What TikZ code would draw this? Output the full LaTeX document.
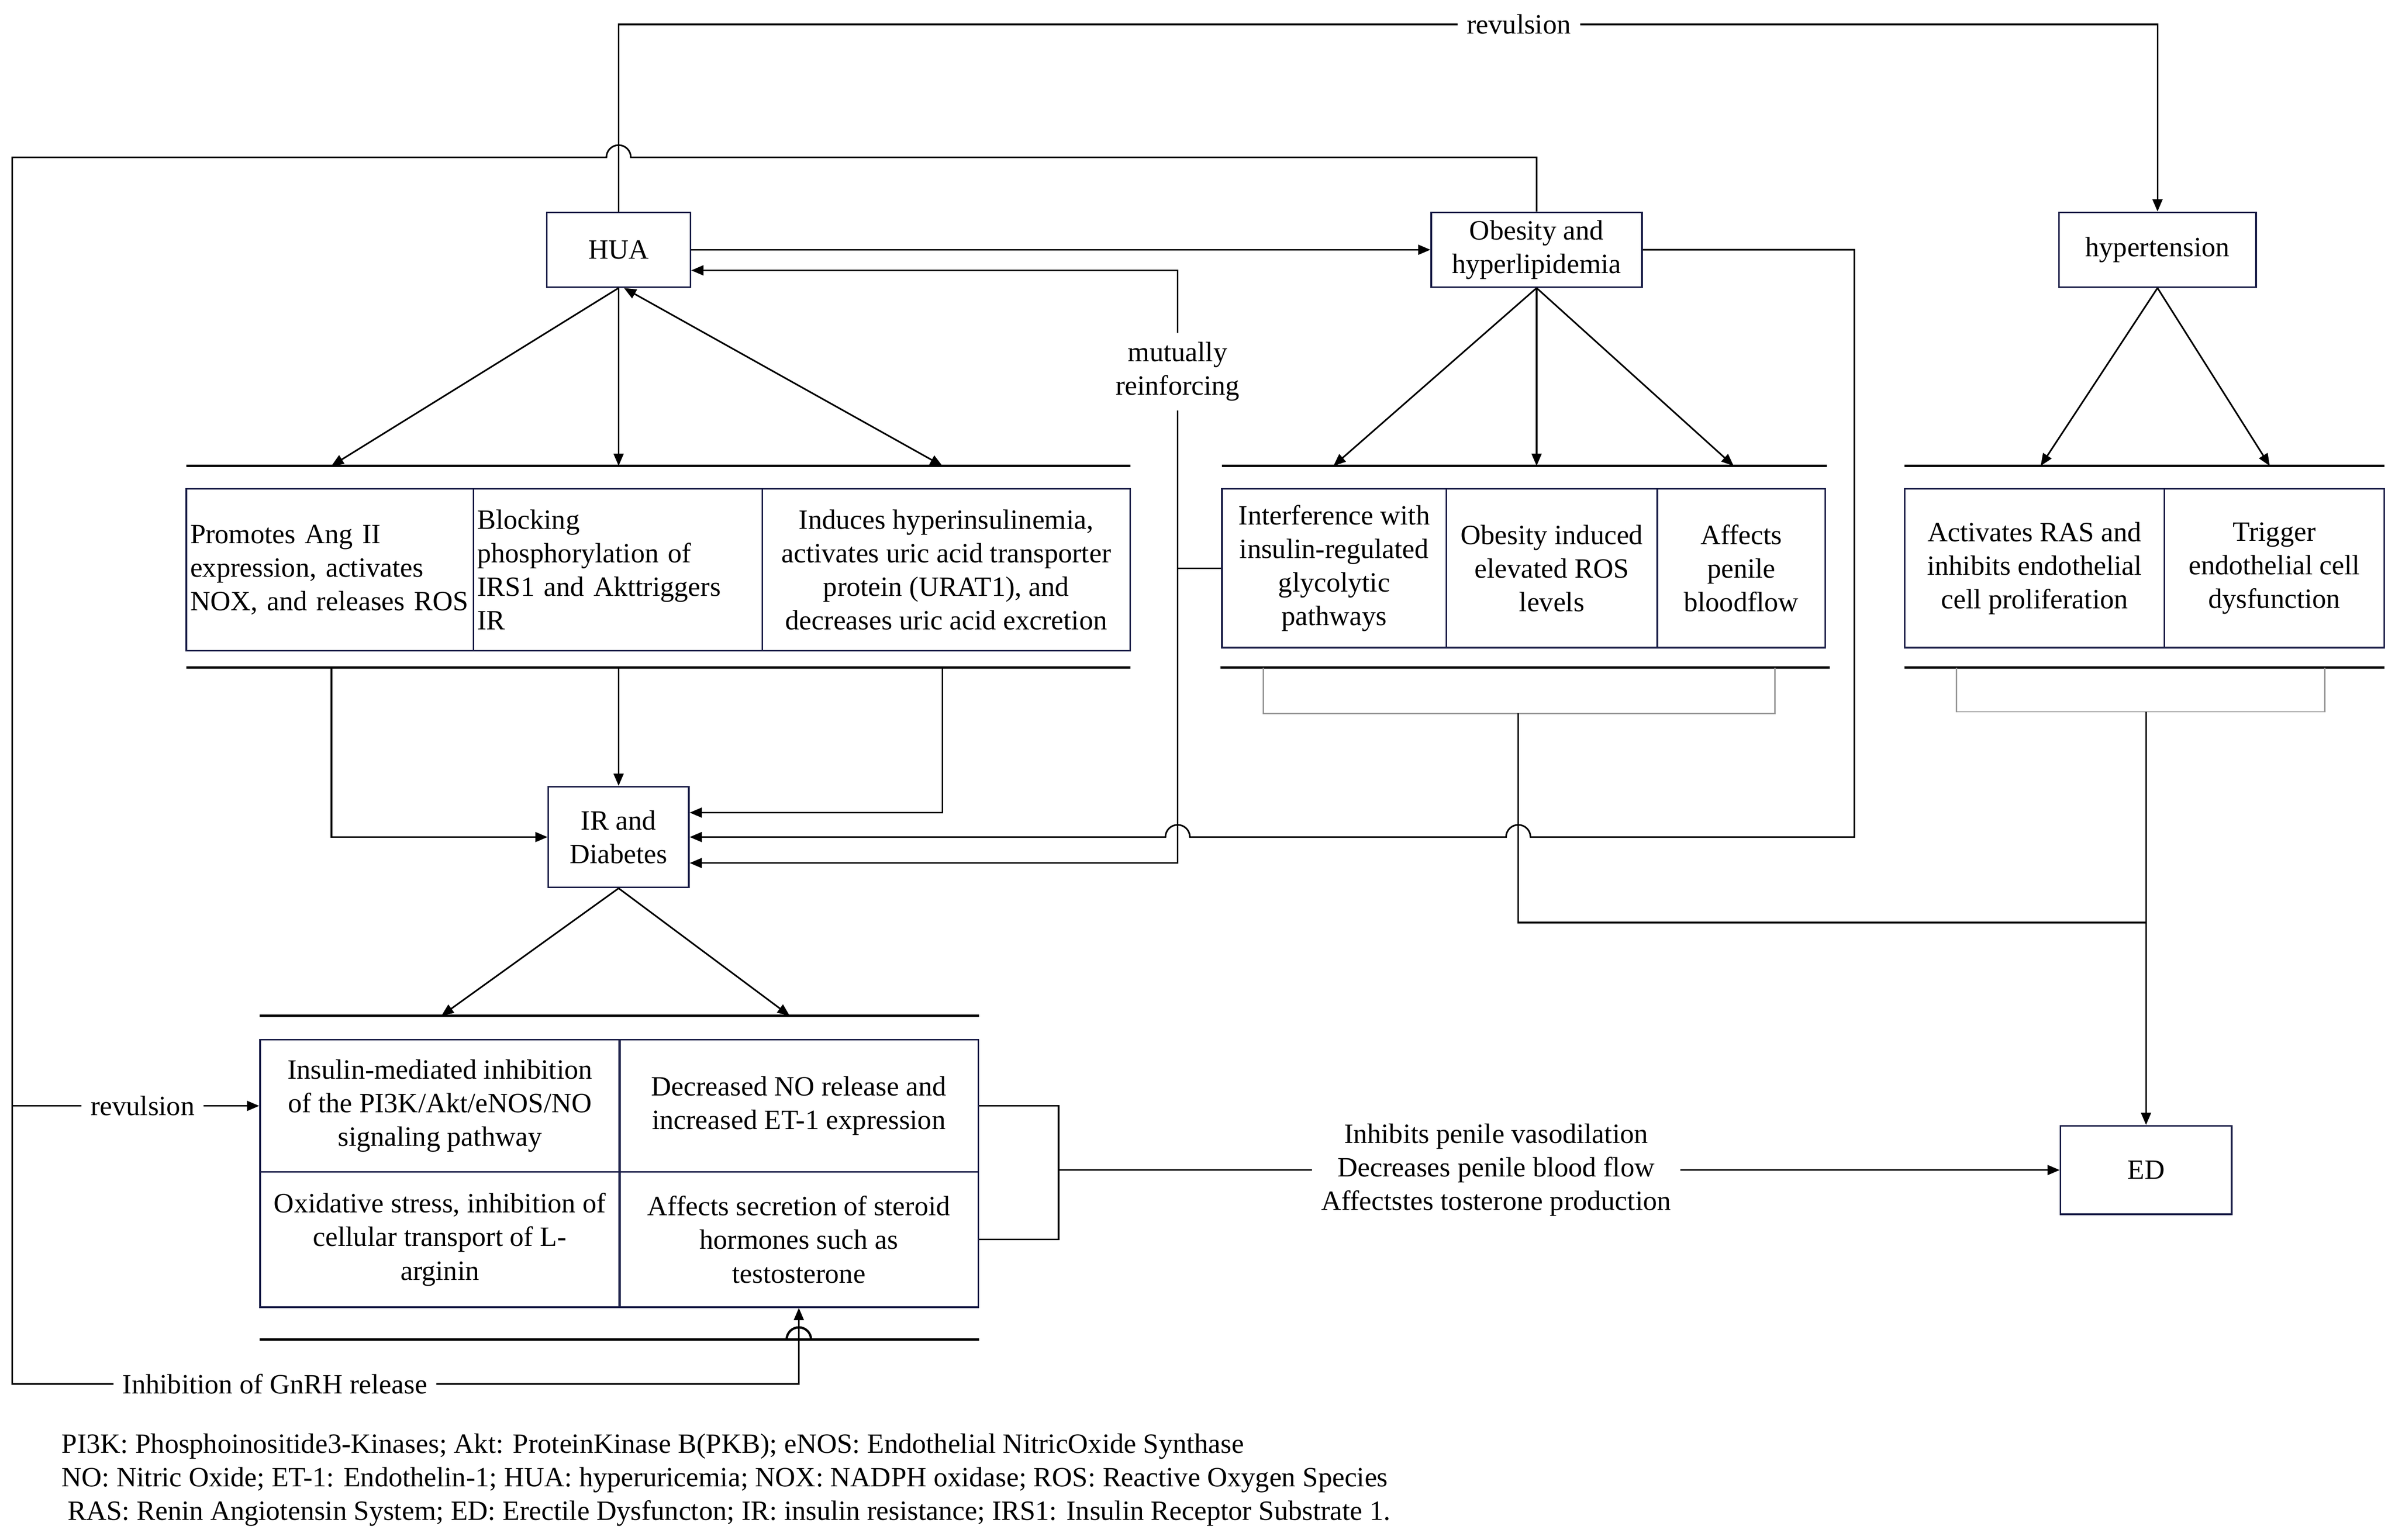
\documentclass[tikz,border=0pt]{standalone}
\usepackage{fontspec}
\setmainfont{Liberation Serif}
\usetikzlibrary{arrows.meta,positioning}
\definecolor{boxnavy}{RGB}{24,28,70}
\definecolor{brackgray}{RGB}{150,150,150}

\begin{document}
\begin{tikzpicture}[x=0.2mm, y=-0.2mm, >={Triangle[length=1.6mm,width=1.3mm]},
  every node/.style={font=\fontsize{10.4}{12.5}\selectfont},
  topbox/.style={draw=boxnavy, line width=0.6pt, minimum height=9.8mm, inner ysep=0.5mm, align=center},
  cell/.style={draw=boxnavy, line width=0.6pt, inner xsep=0.5mm, inner ysep=0pt, align=center},
  lbl/.style={fill=white, inner sep=1.2mm, align=center},
  conn/.style={line width=0.6pt},
  rule/.style={line width=0.85pt},
  brack/.style={draw=brackgray, line width=0.5pt}]
  \useasboundingbox (0,0) rectangle (1568,1008);

  % top row
  \node[topbox, minimum width=18.8mm] (hua) at (405,163.5) {HUA};
  \node[topbox, minimum width=27.6mm] (obes) at (1006,163.5) {Obesity and\\hyperlipidemia};
  \node[topbox, minimum width=25.8mm] (hyp) at (1412.5,163.5) {hypertension};
  \node[topbox, minimum width=18.4mm, minimum height=13.2mm] (ird) at (405,548) {IR and\\Diabetes};
  \node[topbox, minimum width=22.4mm, minimum height=11.6mm] (ed) at (1405,766) {ED};

  % HUA group
  \node[cell, minimum width=37.6mm, minimum height=21.2mm, text width=36.6mm, align=left] (hua1) at (216,373) {Promotes Ang II\\expression, activates\\NOX, and releases ROS};
  \node[cell, minimum width=37.8mm, minimum height=21.2mm, text width=36.8mm, align=left] (hua2) at (404.5,373) {Blocking\\phosphorylation of\\IRS1 and Akttriggers\\IR};
  \node[cell, minimum width=48.2mm, minimum height=21.2mm] (hua3) at (619.5,373) {Induces hyperinsulinemia,\\activates uric acid transporter\\protein (URAT1), and\\decreases uric acid excretion};

  % obesity group
  \node[cell, minimum width=29.4mm, minimum height=20.8mm] (ob1) at (873.5,372) {Interference with\\insulin-regulated\\glycolytic\\pathways};
  \node[cell, minimum width=27.6mm, minimum height=20.8mm] (ob2) at (1016,372) {Obesity induced\\elevated ROS\\levels};
  \node[cell, minimum width=22mm, minimum height=20.8mm] (ob3) at (1140,372) {Affects\\penile\\bloodflow};

  % hypertension group
  \node[cell, minimum width=34mm, minimum height=20.8mm] (hy1) at (1332,372) {Activates RAS and\\inhibits endothelial\\cell proliferation};
  \node[cell, minimum width=28.8mm, minimum height=20.8mm] (hy2) at (1489,372) {Trigger\\endothelial cell\\dysfunction};

  % lower group
  \node[cell, minimum width=47.1mm, minimum height=17.3mm] (ltl) at (288,724) {Insulin-mediated inhibition\\of the PI3K/Akt/eNOS/NO\\signaling pathway};
  \node[cell, minimum width=47mm, minimum height=17.3mm] (ltr) at (523,724) {Decreased NO release and\\increased ET-1 expression};
  \node[cell, minimum width=47.1mm, minimum height=17.7mm] (lbl) at (288,811.5) {Oxidative stress, inhibition of\\cellular transport of L-\\arginin};
  \node[cell, minimum width=47mm, minimum height=17.7mm] (lbr) at (523,811.5) {Affects secretion of steroid\\hormones such as\\testosterone};

  % rules above and below the groups
  \draw[rule] (122,305) -- (740,305);
  \draw[rule] (122,437) -- (740,437);
  \draw[rule] (800,305) -- (1196,305);
  \draw[rule] (799,437) -- (1198,437);
  \draw[rule] (1247,305) -- (1561,305);
  \draw[rule] (1247,437) -- (1561,437);
  \draw[rule] (170,665) -- (641,665);
  \draw[rule] (170,877) -- (531,877) arc[start angle=0, end angle=180, radius=1.6mm] -- (641,877);

  \coordinate (mrtop) at (771,177);
  \coordinate (mrbot) at (771,565);
  \coordinate (huadrop) at (617,532);
  \coordinate (obdrop) at (1214,548);

  % revulsion, HUA to hypertension
  \draw[conn,->] (hua.north) -- (405,16) -- node[lbl, pos=0.585] (rev1) {revulsion} (1412.5,16) -- (hyp.north);

  % obesity back round the left side
  \draw[conn,->] (obes.north) -- (1006,103) -- (413,103) arc[start angle=0, end angle=180, radius=1.6mm]
    -- (8,103) -- (8,906) -- node[lbl, pos=0.334] (gnrh) {Inhibition of GnRH release} (523,906) -- (lbr.south);
  \draw[conn,->] (8,724) -- node[lbl, pos=0.528] (rev2) {revulsion} (ltl.west);

  % HUA and obesity
  \draw[conn,->] (hua.east) -- (obes.west);
  \draw[conn,->] (ob1.west) -- (ob1.west -| mrtop) -- node[lbl, pos=0.66] (mutual) {mutually\\reinforcing} (mrtop) -- (hua.east |- mrtop);
  \draw[conn,->] (ob1.west -| mrtop) -- (mrbot) -- (ird.east |- mrbot);
  \draw[conn,->] (obes.east) -- (obes.east -| obdrop) -- (obdrop) -- (1002,548) arc[start angle=0, end angle=180, radius=1.6mm]
    -- (779,548) arc[start angle=0, end angle=180, radius=1.6mm] -- (ird.east |- obdrop);

  % HUA to its group
  \draw[conn,->] (hua.south) -- (217,305);
  \draw[conn,->] (hua.south) -- (405,305);
  \draw[conn,<->] ([xshift=0.7mm]hua.south) -- (617,305);

  % HUA group to IR
  \draw[conn,->] (217,437) -- (217,548) -- (ird.west);
  \draw[conn,->] (405,437) -- (ird.north);
  \draw[conn,->] (617,437) -- (huadrop) -- (ird.east |- huadrop);

  % obesity and hypertension to their groups
  \draw[conn,->] (obes.south) -- (873,305);
  \draw[conn,->] (obes.south) -- (1006,305);
  \draw[conn,->] (obes.south) -- (1135,305);
  \draw[conn,->] (hyp.south) -- (1336,305);
  \draw[conn,->] (hyp.south) -- (1486,305);

  % brackets to ED
  \draw[brack] (827,437) -- (827,467) -- (1162,467) -- (1162,437);
  \draw[brack] (1281,437) -- (1281,466) -- (1522,466) -- (1522,437);
  \draw[conn] (994,467) -- (994,604) -- (1405,604);
  \draw[conn,->] (1405,466) -- (ed.north);

  % IR to lower group
  \draw[conn,->] (ird.south) -- (289,665);
  \draw[conn,->] (ird.south) -- (517,665);

  % lower group to ED
  \draw[conn] (ltr.east) -- (693,724) -- (693,811.5) -- (lbr.east);
  \draw[conn,->] (693,766) -- node[lbl, pos=0.437] (effects) {Inhibits penile vasodilation\\Decreases penile blood flow\\Affectstes tosterone production} (ed.west);

  % abbreviations
  \node[anchor=west, align=left, inner sep=0pt] (notes) at (40,969) {PI3K: Phosphoinositide3-Kinases; Akt: ProteinKinase B(PKB); eNOS: Endothelial NitricOxide Synthase\\NO: Nitric Oxide; ET-1: Endothelin-1; HUA: hyperuricemia; NOX: NADPH oxidase; ROS: Reactive Oxygen Species\\\hspace*{0.8mm}RAS: Renin Angiotensin System; ED: Erectile Dysfuncton; IR: insulin resistance; IRS1: Insulin Receptor Substrate 1.};
\end{tikzpicture}
\end{document}
